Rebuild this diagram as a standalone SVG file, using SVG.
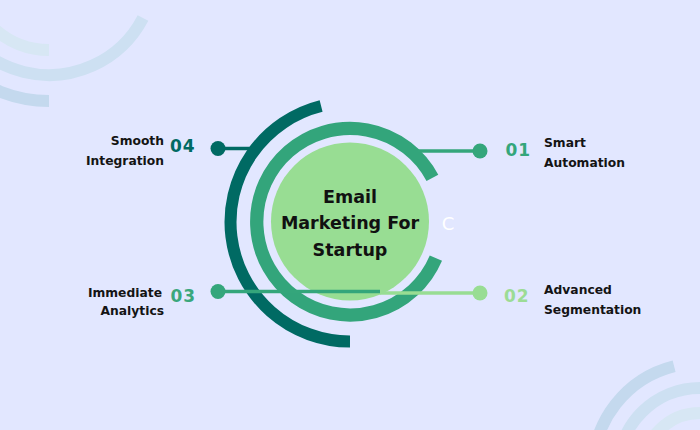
<svg xmlns="http://www.w3.org/2000/svg" width="700" height="430" viewBox="0 0 700 430">
  <defs>
    <style>
      .deco { fill: none; stroke-width: 12; }
      .lbl { font-family: "DejaVu Sans", "Liberation Sans", sans-serif; font-weight: bold; font-size: 12.3px; fill: #141414; }
      .num { font-family: "DejaVu Sans", "Liberation Sans", sans-serif; font-weight: bold; font-size: 17px; letter-spacing: 1px; }
      .title { font-family: "DejaVu Sans", "Liberation Sans", sans-serif; font-weight: bold; font-size: 17.5px; fill: #111; text-anchor: middle; }
      .conn { fill: none; stroke-width: 3.5; }
    </style>
  </defs>
  <rect width="700" height="430" fill="#e2e7ff"/>

  <g id="decor-top-left">
    <path class="deco" stroke="#d7e7f4" d="M 49 50 A 81 81 0 0 1 -32 -31"/>
    <path class="deco" stroke="#cde0f2" d="M 143 18 A 106 106 0 0 1 -57 -31"/>
    <path class="deco" stroke="#c4d9ee" d="M 49 101 A 132 132 0 0 1 -83 -31"/>
  </g>
  <g id="decor-bottom-right">
    <path class="deco" stroke="#c4d9ee" d="M 674.1 366.2 A 107 107 0 0 0 593 470"/>
    <path class="deco" stroke="#cde0f2" d="M 700 388 A 82 82 0 0 0 618 470"/>
    <path class="deco" stroke="#d7e7f4" d="M 700 413 A 57 57 0 0 0 643 470"/>
  </g>

  <g id="rings">
    <path fill="none" stroke="#006a63" stroke-width="12" d="M 321.1 106.05 A 119.5 119.5 0 0 0 350 341.5"/>
    <path fill="none" stroke="#33a57b" stroke-width="13.3" d="M 432.4 177.9 A 93.3 93.3 0 1 0 435.9 258.2"/>
  </g>

  <g id="center">
    <circle cx="350" cy="221.5" r="79" fill="#98dd93"/>
    <text class="title" x="350" y="202.7">Email</text>
    <text class="title" x="350" y="229.3">Marketing For</text>
    <text class="title" x="350" y="256">Startup</text>
    <text x="448" y="229.5" font-family="DejaVu Sans, sans-serif" font-size="18" fill="#ffffff" text-anchor="middle">C</text>
  </g>

  <g id="connectors">
    <line class="conn" stroke="#006a63" x1="218" y1="148.5" x2="250" y2="148.5"/>
    <line class="conn" stroke="#34a67b" x1="418" y1="151" x2="480" y2="151"/>
    <line class="conn" stroke="#34a67b" x1="218" y1="291.5" x2="380" y2="291.5"/>
    <line class="conn" stroke="#98dd93" x1="380" y1="293" x2="480" y2="293"/>
  </g>

  <g id="node-04">
    <circle cx="218" cy="148.5" r="7.5" fill="#006a63"/>
    <text class="num" x="170" y="152.3" fill="#006a63">04</text>
    <text class="lbl" x="164" y="145" text-anchor="end">Smooth</text>
    <text class="lbl" x="164" y="165" text-anchor="end">Integration</text>
  </g>
  <g id="node-01">
    <circle cx="480" cy="151" r="7.5" fill="#34a67b"/>
    <text class="num" x="505.5" y="156" fill="#34a67b">01</text>
    <text class="lbl" x="544" y="146.7">Smart</text>
    <text class="lbl" x="544" y="166.5">Automation</text>
  </g>
  <g id="node-03">
    <circle cx="218" cy="291.5" r="7.5" fill="#34a67b"/>
    <text class="num" x="170.5" y="301.7" fill="#3aa77c">03</text>
    <text class="lbl" x="162" y="296.7" text-anchor="end">Immediate</text>
    <text class="lbl" x="164" y="315" text-anchor="end">Analytics</text>
  </g>
  <g id="node-02">
    <circle cx="480" cy="293" r="7.5" fill="#98dd93"/>
    <text class="num" x="504" y="302" fill="#9cdc95">02</text>
    <text class="lbl" x="544" y="294">Advanced</text>
    <text class="lbl" x="544" y="314">Segmentation</text>
  </g>
</svg>
